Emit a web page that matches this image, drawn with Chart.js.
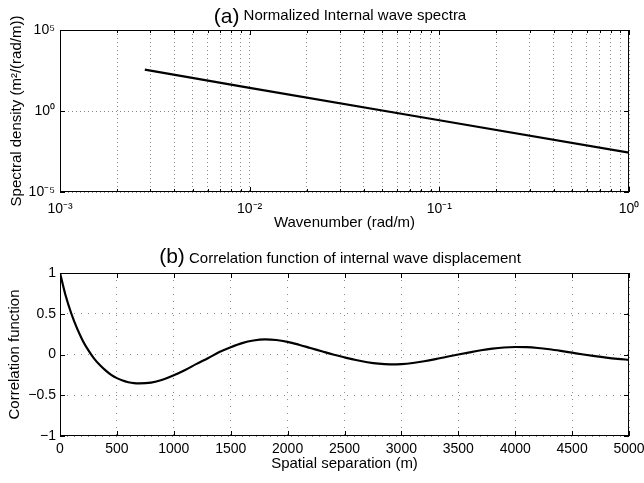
<!DOCTYPE html>
<html>
<head>
<meta charset="utf-8">
<script src="https://cdn.jsdelivr.net/npm/chart.js@4.4.0/dist/chart.umd.min.js"></script>
<style>
  html, body { margin: 0; padding: 0; background: #fff; }
  #wrap { position: relative; width: 644px; height: 483px; }
  canvas { position: absolute; left: 0; }
</style>
</head>
<body>
<div id="wrap">
  <canvas id="specChart" width="644" height="240" style="top:0"></canvas>
  <canvas id="corrChart" width="644" height="243" style="top:240px"></canvas>
</div>
<script>
// (a) spectrum
const wavenumbers = [0.0028, 0.01, 0.1, 1];
const spectralDensity = [355, 27, 0.27, 0.0027];

const specXDecades = [0.001, 0.01, 0.1, 1];
const specXLabels = ['10\u207B\u00B3', '10\u207B\u00B2', '10\u207B\u00B9', '10\u2070'];
const specYTicks = [1e-5, 1, 1e5];
const specYLabels = ['10\u207B\u2075', '10\u2070', '10\u2075'];

// (b) correlation function
const separation = [0, 50, 100, 150, 200, 250, 300, 350, 400, 450, 500, 550, 600, 650, 700, 800, 900, 1000,
  1100, 1200, 1300, 1400, 1500, 1600, 1700, 1800, 1900, 2000,
  2100, 2200, 2300, 2400, 2500, 2600, 2700, 2800, 2900, 3000,
  3100, 3200, 3300, 3400, 3500, 3600, 3700, 3800, 3900, 4000,
  4100, 4200, 4300, 4400, 4500, 4600, 4700, 4800, 4900, 5000];
const correlation = [1.0, 0.72, 0.50, 0.32, 0.17, 0.05, -0.05, -0.13, -0.195, -0.25, -0.29, -0.32, -0.34, -0.352, -0.355, -0.345, -0.31, -0.255,
  -0.19, -0.115, -0.045, 0.03, 0.09, 0.14, 0.172, 0.185, 0.178, 0.155,
  0.12, 0.08, 0.04, 0.0, -0.035, -0.068, -0.095, -0.113, -0.12, -0.117,
  -0.104, -0.083, -0.057, -0.028, 0.0, 0.027, 0.052, 0.072, 0.086, 0.092,
  0.09, 0.08, 0.064, 0.044, 0.022, 0.0, -0.02, -0.038, -0.053, -0.065];

const corrXTicks = [0, 500, 1000, 1500, 2000, 2500, 3000, 3500, 4000, 4500, 5000];
const corrYTicks = [-1, -0.5, 0, 0.5, 1];
const corrYLabels = ['\u22121', '\u22120.5', '0', '0.5', '1'];

const FONT = '"Liberation Sans", Arial, Helvetica, sans-serif';

function isDecade(v) {
  const l = Math.log10(v);
  return Math.abs(l - Math.round(l)) < 1e-6;
}
function decadeIndex(v, list) {
  return list.findIndex(d => Math.abs(Math.log10(v) - Math.log10(d)) < 1e-6);
}

// box + inward tick marks, matlab style
const matlabAxes = {
  id: 'matlabAxes',
  afterDraw(chart) {
    const { ctx, chartArea: a, scales } = chart;
    ctx.save();
    ctx.strokeStyle = '#000';
    ctx.lineWidth = 1;
    ctx.strokeRect(a.left + 0.5, a.top + 0.5, a.width - 1, a.height - 1);
    ctx.beginPath();
    scales.x.ticks.forEach(t => {
      const px = Math.round(scales.x.getPixelForValue(t.value)) + 0.5;
      const len = (scales.x.type === 'logarithmic' && !isDecade(t.value)) ? 3 : 5;
      ctx.moveTo(px, a.bottom); ctx.lineTo(px, a.bottom - len);
      ctx.moveTo(px, a.top); ctx.lineTo(px, a.top + len);
    });
    scales.y.ticks.forEach(t => {
      const py = Math.round(scales.y.getPixelForValue(t.value)) + 0.5;
      ctx.moveTo(a.left, py); ctx.lineTo(a.left + 5, py);
      ctx.moveTo(a.right, py); ctx.lineTo(a.right - 5, py);
    });
    ctx.stroke();
    ctx.restore();
  }
};

// title with larger panel letter
const panelTitle = {
  id: 'panelTitle',
  afterDraw(chart, args, opts) {
    const ctx = chart.ctx;
    ctx.save();
    ctx.fillStyle = '#000';
    ctx.textBaseline = 'alphabetic';
    ctx.textAlign = 'left';
    ctx.font = '21px ' + FONT;
    const w1 = ctx.measureText(opts.letter).width;
    ctx.font = '15px ' + FONT;
    const w2 = ctx.measureText(' ' + opts.text).width;
    let x = opts.center - (w1 + w2) / 2;
    ctx.font = '21px ' + FONT;
    ctx.fillText(opts.letter, x, opts.letterBaseline);
    ctx.font = '15px ' + FONT;
    ctx.fillText(' ' + opts.text, x + w1, opts.baseline);
    ctx.restore();
  }
};

const gridStyle = (dash) => ({
  grid: { color: '#8a8a8a', lineWidth: 1, drawTicks: false },
  border: { display: false, dash: dash }
});

Chart.defaults.font.family = FONT;
Chart.defaults.color = '#000';

new Chart(document.getElementById('specChart'), {
  type: 'line',
  data: {
    datasets: [{
      data: wavenumbers.map((k, i) => ({ x: k, y: spectralDensity[i] })),
      borderColor: '#000',
      borderWidth: 2.2,
      pointRadius: 0,
      fill: false,
      tension: 0
    }]
  },
  options: {
    responsive: false,
    animation: false,
    layout: { padding: { top: 30, right: 15, left: 0, bottom: 0 } },
    plugins: {
      legend: { display: false },
      tooltip: { enabled: false },
      panelTitle: { letter: '(a)', text: 'Normalized Internal wave spectra', center: 340, letterBaseline: 23, baseline: 20 }
    },
    scales: {
      x: {
        type: 'logarithmic',
        min: 0.001, max: 1,
        ...gridStyle([1, 3]),
        afterBuildTicks: s => {
          const t = [];
          specXDecades.forEach((d, i) => {
            if (i === specXDecades.length - 1) { t.push({ value: d }); return; }
            for (let m = 1; m < 10; m++) t.push({ value: +(d * m).toPrecision(6) });
          });
          s.ticks = t;
        },
        afterFit: s => { s.height = 48; s.paddingLeft = 0; s.paddingRight = 0; },
        ticks: {
          autoSkip: false, maxRotation: 0, padding: 9,
          font: { size: 14 },
          callback: v => { const i = decadeIndex(v, specXDecades); return i >= 0 ? specXLabels[i] : ''; }
        },
        title: { display: true, text: 'Wavenumber (rad/m)', font: { size: 15 }, padding: { top: 0, bottom: 8 } }
      },
      y: {
        type: 'logarithmic',
        min: 1e-5, max: 1e5,
        ...gridStyle([1, 3]),
        afterBuildTicks: s => { s.ticks = specYTicks.map(v => ({ value: v })); },
        afterFit: s => { s.width = 60; },
        ticks: {
          autoSkip: false, padding: 5,
          font: { size: 14 },
          callback: v => { const i = decadeIndex(v, specYTicks); return i >= 0 ? specYLabels[i] : ''; }
        },
        title: { display: true, text: 'Spectral density (m\u00B2/(rad/m))', font: { size: 15 }, padding: { top: 8, bottom: 0 } }
      }
    }
  },
  plugins: [matlabAxes, panelTitle]
});

new Chart(document.getElementById('corrChart'), {
  type: 'line',
  data: {
    datasets: [{
      data: separation.map((x, i) => ({ x: x, y: correlation[i] })),
      borderColor: '#000',
      borderWidth: 2.2,
      pointRadius: 0,
      fill: false,
      cubicInterpolationMode: 'monotone'
    }]
  },
  options: {
    responsive: false,
    animation: false,
    layout: { padding: { top: 33, right: 15, left: 0, bottom: 0 } },
    plugins: {
      legend: { display: false },
      tooltip: { enabled: false },
      panelTitle: { letter: '(b)', text: 'Correlation function of internal wave displacement', center: 340, letterBaseline: 23, baseline: 23 }
    },
    scales: {
      x: {
        type: 'linear',
        min: 0, max: 5000,
        ...gridStyle([1, 6]),
        afterBuildTicks: s => { s.ticks = corrXTicks.map(v => ({ value: v })); },
        afterFit: s => { s.height = 47; s.paddingLeft = 0; s.paddingRight = 0; },
        ticks: { autoSkip: false, maxRotation: 0, padding: 5, font: { size: 14 }, callback: v => String(v) },
        title: { display: true, text: 'Spatial separation (m)', font: { size: 15 }, padding: { top: 0, bottom: 10 } }
      },
      y: {
        type: 'linear',
        min: -1, max: 1,
        ...gridStyle([1, 6]),
        afterBuildTicks: s => { s.ticks = corrYTicks.map(v => ({ value: v })); },
        afterFit: s => { s.width = 60; },
        ticks: {
          autoSkip: false, padding: 4, font: { size: 14 },
          callback: v => { const i = corrYTicks.indexOf(v); return i >= 0 ? corrYLabels[i] : ''; }
        },
        title: { display: true, text: 'Correlation function', font: { size: 15 }, padding: { top: 6, bottom: 0 } }
      }
    }
  },
  plugins: [matlabAxes, panelTitle]
});
</script>
</body>
</html>
